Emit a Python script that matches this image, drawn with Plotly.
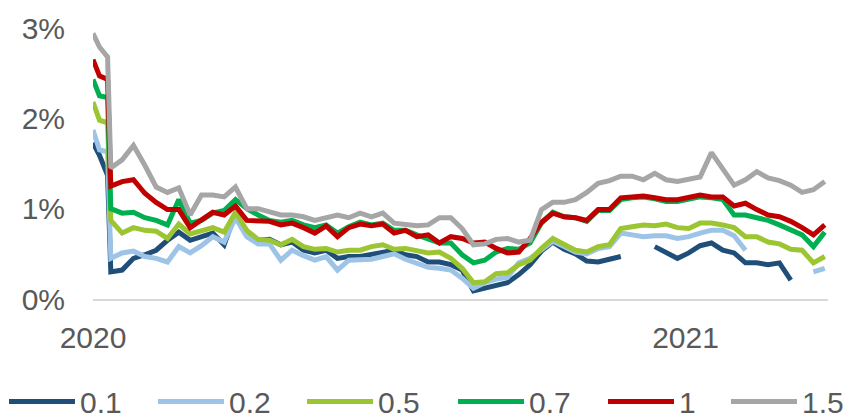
import pandas as pd
import plotly.graph_objects as go

# x positions (dates)
dates = ["2020-01-01", "2020-01-05", "2020-01-10"] + [
    d.strftime("%Y-%m-%d") for d in pd.date_range("2020-01-12", periods=64, freq="7D")
]

series_names = ["0.1", "0.2", "0.5", "0.7", "1", "1.5"]
colors = ["#1F4E79", "#9DC3E6", "#9BC531", "#00B050", "#C00000", "#A6A6A6"]

s_01 = [1.73, 1.59, 1.37,
        0.30, 0.32, 0.45, 0.49, 0.54, 0.65, 0.74, 0.65, 0.69, 0.73,
        0.60, 0.95, 0.73, 0.65, 0.66, 0.60, 0.63, 0.54, 0.51, 0.54,
        0.45, 0.47, 0.47, 0.49, 0.52, 0.54, 0.49, 0.47, 0.41, 0.41,
        0.38, 0.32, 0.09, 0.12, 0.16, 0.18, 0.27, 0.38, 0.53, 0.63,
        0.55, 0.50, 0.42, 0.41, 0.44, 0.47, None, None, 0.58, 0.51,
        0.45, 0.51, 0.59, 0.62, 0.54, 0.51, 0.40, 0.40, 0.38, 0.40,
        0.21, None, None, None]
s_02 = [1.87, 1.65, 1.63,
        0.45, 0.51, 0.53, 0.47, 0.45, 0.41, 0.58, 0.51, 0.59, 0.69,
        0.63, 0.90, 0.69, 0.61, 0.61, 0.43, 0.54, 0.48, 0.43, 0.47,
        0.32, 0.43, 0.43, 0.44, 0.47, 0.50, 0.44, 0.40, 0.35, 0.34,
        0.32, 0.23, 0.12, 0.18, 0.22, 0.24, 0.40, 0.45, 0.54, 0.64,
        0.58, 0.52, 0.50, 0.56, 0.58, 0.73, 0.71, 0.69, 0.70, 0.70,
        0.67, 0.69, 0.73, 0.76, 0.76, 0.70, 0.54, None, None, None,
        None, None, 0.30, 0.34]
s_05 = [2.18, 1.98, 1.95,
        0.87, 0.73, 0.79, 0.76, 0.75, 0.67, 0.83, 0.72, 0.76, 0.79,
        0.74, 0.96, 0.76, 0.66, 0.65, 0.60, 0.66, 0.58, 0.55, 0.56,
        0.52, 0.54, 0.54, 0.58, 0.60, 0.55, 0.56, 0.53, 0.51, 0.52,
        0.45, 0.34, 0.18, 0.19, 0.28, 0.29, 0.38, 0.43, 0.56, 0.67,
        0.60, 0.54, 0.52, 0.58, 0.60, 0.78, 0.80, 0.82, 0.81, 0.83,
        0.79, 0.78, 0.84, 0.84, 0.82, 0.79, 0.69, 0.69, 0.63, 0.61,
        0.55, 0.54, 0.40, 0.47]
s_07 = [2.43, 2.25, 2.23,
        1.00, 0.95, 0.96, 0.90, 0.87, 0.82, 1.10, 0.84, 0.87, 0.95,
        0.98, 1.10, 1.00, 0.93, 0.87, 0.85, 0.87, 0.82, 0.79, 0.82,
        0.73, 0.80, 0.85, 0.82, 0.84, 0.76, 0.76, 0.71, 0.67, 0.62,
        0.62, 0.49, 0.40, 0.43, 0.52, 0.56, 0.55, 0.62, 0.84, 0.96,
        0.91, 0.90, 0.86, 0.98, 0.98, 1.10, 1.12, 1.13, 1.11, 1.08,
        1.08, 1.10, 1.13, 1.12, 1.10, 0.93, 0.93, 0.90, 0.87, 0.82,
        0.76, 0.71, 0.58, 0.74]
s_1 = [2.65, 2.47, 2.43,
       1.25, 1.30, 1.32, 1.17, 1.07, 0.99, 0.99, 0.79, 0.87, 0.96,
       0.93, 1.03, 0.87, 0.87, 0.86, 0.82, 0.84, 0.79, 0.73, 0.81,
       0.69, 0.79, 0.83, 0.81, 0.83, 0.73, 0.76, 0.69, 0.71, 0.62,
       0.69, 0.67, 0.62, 0.63, 0.56, 0.51, 0.52, 0.67, 0.85, 0.95,
       0.91, 0.90, 0.87, 0.99, 0.99, 1.12, 1.13, 1.14, 1.12, 1.10,
       1.10, 1.12, 1.15, 1.13, 1.13, 1.03, 1.06, 0.99, 0.93, 0.91,
       0.86, 0.79, 0.71, 0.82]
s_15 = [2.94, 2.79, 2.68,
        1.45, 1.54, 1.70, 1.48, 1.24, 1.18, 1.23, 0.93, 1.15, 1.15,
        1.13, 1.24, 1.00, 1.00, 0.96, 0.93, 0.93, 0.91, 0.87, 0.90,
        0.93, 0.90, 0.95, 0.91, 0.95, 0.84, 0.83, 0.81, 0.82, 0.90,
        0.90, 0.78, 0.60, 0.61, 0.66, 0.67, 0.63, 0.65, 0.99, 1.07,
        1.07, 1.10, 1.18, 1.28, 1.31, 1.36, 1.36, 1.32, 1.39, 1.32,
        1.30, 1.32, 1.35, 1.62, 1.45, 1.26, 1.32, 1.41, 1.34, 1.31,
        1.26, 1.18, 1.21, 1.30]

y_tickvals = [0, 1, 2, 3]
y_ticktext = ["0%", "1%", "2%", "3%"]
x_tickvals = ["2020-01-01", "2021-01-01"]
x_ticktext = ["2020", "2021"]

# legend entry positions (paper x) for each series' own legend box
legend_x = [-0.1211, 0.0816, 0.2844, 0.4898, 0.6939, 0.8612]

FONT = "Liberation Sans, Arial, sans-serif"
TXT = "#595959"
FS = 30

fig = go.Figure()
all_vals = [s_01, s_02, s_05, s_07, s_1, s_15]
legend_layouts = {}
for i, (name, col, vals) in enumerate(zip(series_names, colors, all_vals)):
    lg = "legend" if i == 0 else f"legend{i + 1}"
    fig.add_trace(go.Scatter(x=dates, y=vals, mode="lines", name=name,
                             line=dict(color=col, width=5), connectgaps=False,
                             legend=lg))
    legend_layouts[lg] = dict(orientation="h", x=legend_x[i], xanchor="left",
                              y=-0.378, yanchor="middle",
                              font=dict(family=FONT, size=FS, color=TXT),
                              itemwidth=66, bgcolor="rgba(0,0,0,0)",
                              borderwidth=0)

# the page body adds an 8px offset, so the figure is 8px smaller
fig.update_layout(
    width=848, height=412,
    margin=dict(l=85, r=28, t=20, b=121, autoexpand=False),
    paper_bgcolor="white", plot_bgcolor="white",
    font=dict(family=FONT, size=FS, color=TXT),
    showlegend=True,
    xaxis=dict(type="date", range=["2020-01-01", "2021-03-30"],
               tickvals=x_tickvals, ticktext=x_ticktext,
               showgrid=False, zeroline=False, showline=True,
               linecolor="#D9D9D9", linewidth=2, ticks="",
               ticklabelstandoff=11),
    yaxis=dict(range=[0, 3], tickvals=y_tickvals, ticktext=y_ticktext,
               showgrid=False, zeroline=False, showline=False, ticks="",
               ticklabelstandoff=27),
    **legend_layouts,
)

fig.write_html("out.html")
